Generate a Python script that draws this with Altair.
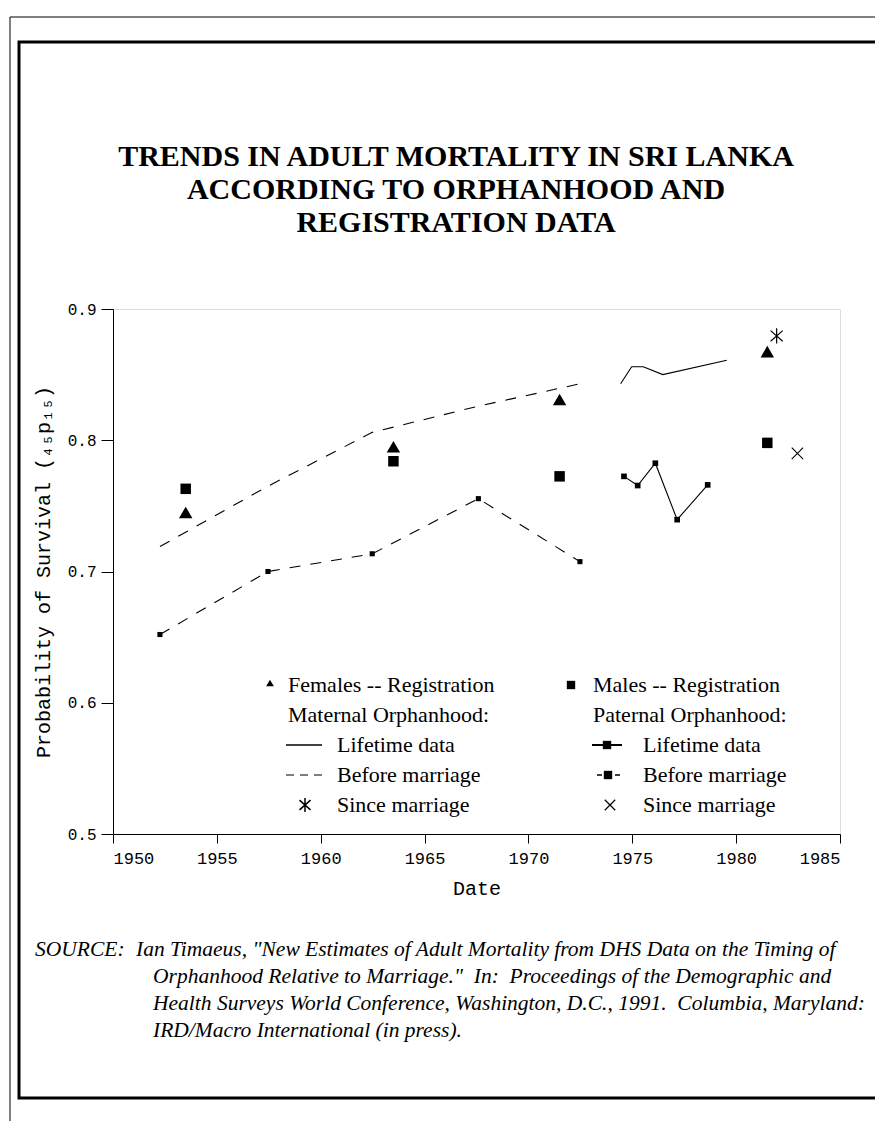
import altair as alt
import pandas as pd

# ---------------- data ----------------
reg_years = [1953.5, 1963.5, 1971.5, 1981.5]
females_reg = [0.745, 0.795, 0.831, 0.8675]
males_reg = [0.763, 0.784, 0.7725, 0.798]

before_years = [1952.26, 1957.46, 1962.48, 1967.59, 1972.48]
maternal_before = [0.719, 0.765, 0.806, 0.826, 0.843]
paternal_before = [0.652, 0.700, 0.7135, 0.7555, 0.7075]

maternal_life_years = [1974.44, 1974.97, 1975.53, 1976.47, 1979.55]
maternal_life = [0.843, 0.856, 0.856, 0.850, 0.861]
paternal_life_years = [1974.60, 1975.26, 1976.11, 1977.16, 1978.63]
paternal_life = [0.7725, 0.7655, 0.7825, 0.7395, 0.766]

maternal_since_years = [1981.95]
maternal_since = [0.8795]
paternal_since_years = [1982.95]
paternal_since = [0.790]

x_ticks = [1950, 1955, 1960, 1965, 1970, 1975, 1980, 1985]
y_ticks = [0.5, 0.6, 0.7, 0.8, 0.9]

title_lines = ["TRENDS IN ADULT MORTALITY IN SRI LANKA",
               "ACCORDING TO ORPHANHOOD AND",
               "REGISTRATION DATA"]
legend_left = ["Females -- Registration", "Maternal Orphanhood:",
               "Lifetime data", "Before marriage", "Since marriage"]
legend_right = ["Males -- Registration", "Paternal Orphanhood:",
                "Lifetime data", "Before marriage", "Since marriage"]
source_lines = [
    "Ian Timaeus, \"New Estimates of Adult Mortality from DHS Data on the Timing of",
    "Orphanhood Relative to Marriage.\"\u00a0 In:\u00a0 Proceedings of the Demographic and",
    "Health Surveys World Conference, Washington, D.C., 1991.\u00a0 Columbia, Maryland:",
    "IRD/Macro International (in press).",
]

# ---------------- tables ----------------
reg_df = pd.DataFrame({"year": reg_years, "fem": females_reg, "male": males_reg})
before_df = pd.DataFrame({"year": before_years, "mat": maternal_before, "pat": paternal_before})
mlife_df = pd.DataFrame({"year": maternal_life_years, "v": maternal_life})
plife_df = pd.DataFrame({"year": paternal_life_years, "v": paternal_life})
msince_df = pd.DataFrame({"year": maternal_since_years, "v": maternal_since})
psince_df = pd.DataFrame({"year": paternal_since_years, "v": paternal_since})
one = pd.DataFrame({"k": [0]})

W, H = 727, 525
MONO = "Liberation Mono"
SERIF = "Liberation Serif"

xs = alt.Scale(domain=[1950, 1985], nice=False, zero=False)
ys = alt.Scale(domain=[0.5, 0.9], nice=False, zero=False)

x_axis = alt.Axis(values=x_ticks, format="d", title="Date", grid=False,
                  labelFont=MONO, labelFontSize=17, labelColor="black",
                  titleFont=MONO, titleFontSize=20, titleFontWeight="normal",
                  titleColor="black", tickSize=9, tickColor="black",
                  domainColor="black", labelPadding=7, titlePadding=12)
y_axis = alt.Axis(values=y_ticks, format=".1f",
                  title="Probability of Survival (\u2084\u2085p\u2081\u2085)",
                  grid=False, labelFont=MONO, labelFontSize=16, labelColor="black",
                  titleFont=MONO, titleFontSize=20, titleFontWeight="normal",
                  titleColor="black", tickSize=12, tickColor="black",
                  domainColor="black", labelPadding=5, titlePadding=14)

ASTER = "M0,-1L0,1M-0.8,-0.7L0.8,0.7M-0.8,0.7L0.8,-0.7"
XMARK = "M-1,-1L1,1M-1,1L1,-1"

base_x = alt.X("year:Q", scale=xs, axis=x_axis)

mat_before_line = alt.Chart(before_df).mark_line(
    color="black", strokeWidth=1.1, strokeDash=[11, 10]).encode(
    x=base_x, y=alt.Y("mat:Q", scale=ys, axis=y_axis))
pat_before_line = alt.Chart(before_df).mark_line(
    color="black", strokeWidth=1.1, strokeDash=[11, 10]).encode(
    x="year:Q", y=alt.Y("pat:Q", scale=ys))
pat_before_pts = alt.Chart(before_df).mark_square(color="black", size=26, opacity=1).encode(
    x="year:Q", y=alt.Y("pat:Q", scale=ys))
mat_life_line = alt.Chart(mlife_df).mark_line(color="black", strokeWidth=1.1).encode(
    x="year:Q", y=alt.Y("v:Q", scale=ys))
pat_life_line = alt.Chart(plife_df).mark_line(color="black", strokeWidth=1.1).encode(
    x="year:Q", y=alt.Y("v:Q", scale=ys))
pat_life_pts = alt.Chart(plife_df).mark_square(color="black", size=32, opacity=1).encode(
    x="year:Q", y=alt.Y("v:Q", scale=ys))
fem_pts = alt.Chart(reg_df).mark_point(shape="triangle-up", filled=True, color="black",
                                       size=180, opacity=1).encode(
    x="year:Q", y=alt.Y("fem:Q", scale=ys))
male_pts = alt.Chart(reg_df).mark_square(color="black", size=110, opacity=1).encode(
    x="year:Q", y=alt.Y("male:Q", scale=ys))
msince_pt = alt.Chart(msince_df).mark_point(shape=ASTER, filled=False, color="black",
                                            size=230, strokeWidth=1.2, opacity=1).encode(
    x="year:Q", y=alt.Y("v:Q", scale=ys))
psince_pt = alt.Chart(psince_df).mark_point(shape=XMARK, filled=False, color="black",
                                            size=130, strokeWidth=1.1, opacity=1).encode(
    x="year:Q", y=alt.Y("v:Q", scale=ys))

# ---------------- legend (drawn inside the plot) ----------------
ROW0, STEP = 376, 30
LX_SYM, LX_LAB, LX_IND = 157, 175, 224
RX_SYM, RX_LAB, RX_IND = 458, 480, 530
leg_font = dict(font=SERIF, fontSize=22, color="black", align="left", baseline="middle")

legend_layers = []
for i, lab in enumerate(legend_left):
    xl = LX_LAB if i < 2 else LX_IND
    legend_layers.append(alt.Chart(one).mark_text(text=lab, **leg_font).encode(
        x=alt.value(xl), y=alt.value(ROW0 + i * STEP)))
for i, lab in enumerate(legend_right):
    xl = RX_LAB if i < 2 else RX_IND
    legend_layers.append(alt.Chart(one).mark_text(text=lab, **leg_font).encode(
        x=alt.value(xl), y=alt.value(ROW0 + i * STEP)))

legend_layers += [
    alt.Chart(one).mark_point(shape="triangle-up", filled=True, color="black", size=60, opacity=1)
    .encode(x=alt.value(LX_SYM), y=alt.value(ROW0 - 2)),
    alt.Chart(one).mark_square(color="black", size=70, opacity=1)
    .encode(x=alt.value(RX_SYM), y=alt.value(ROW0)),
    alt.Chart(one).mark_rule(color="black", strokeWidth=1.3)
    .encode(x=alt.value(173), x2=alt.value(209), y=alt.value(ROW0 + 2 * STEP)),
    alt.Chart(one).mark_rule(color="black", strokeWidth=1.2, strokeDash=[8, 6])
    .encode(x=alt.value(173), x2=alt.value(209), y=alt.value(ROW0 + 3 * STEP)),
    alt.Chart(one).mark_point(shape=ASTER, filled=False, color="black", size=190,
                              strokeWidth=1.5, opacity=1)
    .encode(x=alt.value(192), y=alt.value(ROW0 + 4 * STEP)),
    alt.Chart(one).mark_rule(color="black", strokeWidth=2)
    .encode(x=alt.value(479), x2=alt.value(509), y=alt.value(ROW0 + 2 * STEP)),
    alt.Chart(one).mark_square(color="black", size=70, opacity=1)
    .encode(x=alt.value(494), y=alt.value(ROW0 + 2 * STEP)),
    alt.Chart(one).mark_rule(color="black", strokeWidth=1.6, strokeDash=[5, 13])
    .encode(x=alt.value(484), x2=alt.value(507), y=alt.value(ROW0 + 3 * STEP)),
    alt.Chart(one).mark_square(color="black", size=70, opacity=1)
    .encode(x=alt.value(495), y=alt.value(ROW0 + 3 * STEP)),
    alt.Chart(one).mark_point(shape=XMARK, filled=False, color="black", size=110,
                              strokeWidth=1.2, opacity=1)
    .encode(x=alt.value(497), y=alt.value(ROW0 + 4 * STEP)),
]

# ---------------- title ----------------
title_layers = []
for i, line in enumerate(title_lines):
    title_layers.append(alt.Chart(one).mark_text(
        text=line, font=SERIF, fontSize=30, fontWeight="bold", color="black",
        align="center", baseline="middle").encode(
        x=alt.value(343), y=alt.value(-152 + i * 33)))

# ---------------- source note ----------------
src_font = dict(font=SERIF, fontSize=21.5, fontStyle="italic", color="black", baseline="middle")
SRC0, SSTEP = 641, 27
source_layers = [alt.Chart(one).mark_text(text="SOURCE:", align="left", **src_font).encode(
    x=alt.value(-78), y=alt.value(SRC0))]
for i, line in enumerate(source_lines):
    source_layers.append(alt.Chart(one).mark_text(text=line, align="left", **src_font).encode(
        x=alt.value(23 if i == 0 else 40), y=alt.value(SRC0 + i * SSTEP)))

# ---------------- page frame ----------------
frame = alt.Chart(one).mark_rect(fill=None, stroke="black", strokeWidth=3).encode(
    x=alt.value(-94), x2=alt.value(800), y=alt.value(-267), y2=alt.value(789))
thin_top = alt.Chart(one).mark_rule(color="black", strokeWidth=1).encode(
    x=alt.value(-103), x2=alt.value(800), y=alt.value(-292))
thin_left = alt.Chart(one).mark_rule(color="black", strokeWidth=1).encode(
    x=alt.value(-103), y=alt.value(-292), y2=alt.value(812))

chart = alt.layer(
    mat_before_line, pat_before_line, pat_before_pts, mat_life_line, pat_life_line,
    pat_life_pts, fem_pts, male_pts, msince_pt, psince_pt,
    *legend_layers, *title_layers, *source_layers, frame, thin_top, thin_left
).properties(
    width=W, height=H,
    autosize=alt.AutoSizeParams(type="none"),
    padding={"left": 105, "top": 301, "right": 35, "bottom": 297},
).configure_view(stroke="black", strokeWidth=1).configure(background="white")

chart.save("out.html", embed_options={"renderer": "svg", "actions": False})
